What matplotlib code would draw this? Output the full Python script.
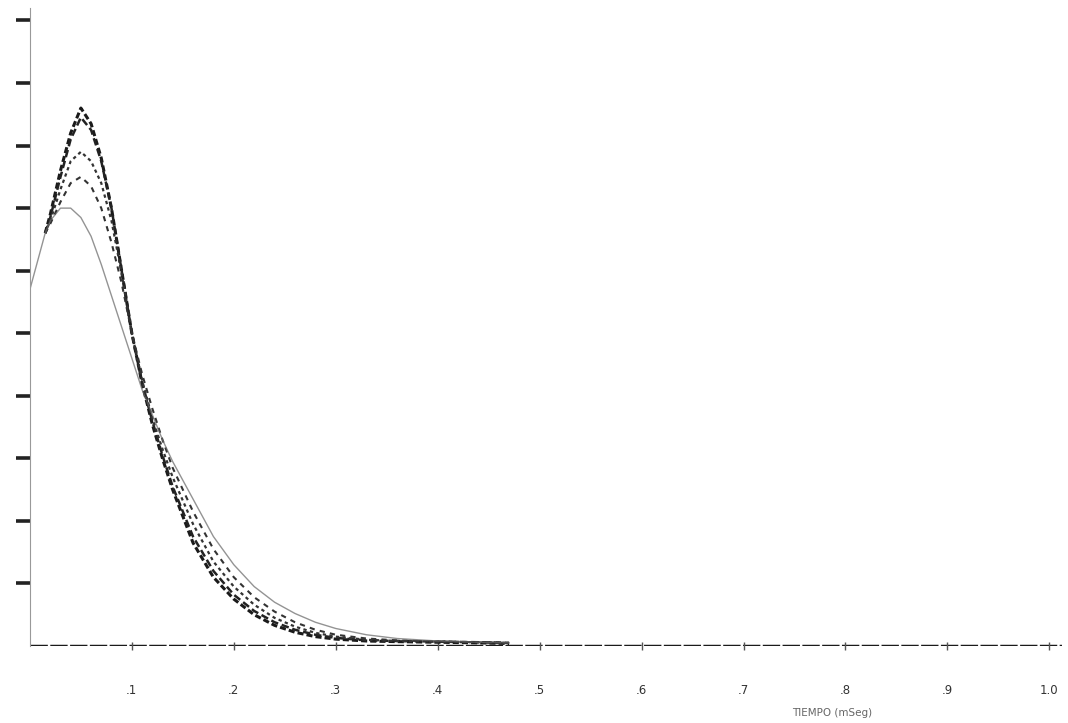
import numpy as np
import matplotlib.pyplot as plt

# time samples (mSeg) shared by all curves; nan = no sample drawn
t = [0.00, 0.015, 0.02, 0.03, 0.04, 0.05, 0.06, 0.07, 0.08, 0.09, 0.10,
     0.11, 0.12, 0.13, 0.14, 0.16, 0.18, 0.20, 0.22, 0.24, 0.26, 0.28,
     0.30, 0.33, 0.36, 0.40, 0.44, 0.47]

curve_a = [np.nan, 6.6, 6.9, 7.6, 8.2, 8.6, 8.35, 7.8, 7.0, 6.0, 5.0,
           4.2, 3.55, 3.0, 2.5, 1.65, 1.1, 0.75, 0.5, 0.33, 0.22, 0.15,
           0.11, 0.08, 0.07, 0.06, 0.05, 0.04]
curve_b = [np.nan, 6.6, 6.85, 7.5, 8.1, 8.45, 8.25, 7.75, 7.0, 6.0, 5.0,
           4.2, 3.6, 3.05, 2.55, 1.75, 1.2, 0.82, 0.56, 0.38, 0.26, 0.18,
           0.13, 0.09, 0.08, 0.07, 0.06, 0.05]
curve_c = [np.nan, 6.6, 6.8, 7.3, 7.75, 7.9, 7.75, 7.4, 6.8, 5.95, 5.0,
           4.25, 3.65, 3.15, 2.7, 1.95, 1.35, 0.95, 0.66, 0.45, 0.31, 0.21,
           0.15, 0.1, 0.08, 0.07, 0.06, 0.05]
curve_d = [np.nan, 6.6, 6.75, 7.1, 7.4, 7.5, 7.35, 7.0, 6.45, 5.8, 5.0,
           4.35, 3.8, 3.3, 2.85, 2.15, 1.55, 1.1, 0.78, 0.55, 0.38, 0.26,
           0.18, 0.12, 0.09, 0.07, 0.06, 0.05]
curve_e = [5.7, 6.6, 6.8, 7.0, 7.0, 6.85, 6.55, 6.1, 5.6, 5.1, 4.6,
           4.1, 3.7, 3.3, 2.95, 2.35, 1.75, 1.3, 0.95, 0.7, 0.52, 0.38,
           0.28, 0.18, 0.12, 0.08, 0.06, 0.05]

x_ticks = [0.1, 0.2, 0.3, 0.4, 0.5, 0.6, 0.7, 0.8, 0.9, 1.0]
x_labels = ['.1', '.2', '.3', '.4', '.5', '.6', '.7', '.8', '.9', '1.0']
y_ticks = [1, 2, 3, 4, 5, 6, 7, 8, 9, 10]

fig = plt.figure(figsize=(10.68, 7.23), dpi=100)
ax = fig.add_axes([0.028, 0.1065, 0.966, 0.8825])

ax.plot(t, curve_a, color='#1a1a1a', lw=2.2, ls=(0, (2, 1)))
ax.plot(t, curve_b, color='#222222', lw=1.8, ls=(0, (3, 1.5)))
ax.plot(t, curve_c, color='#333333', lw=1.6, ls=(0, (1.5, 1.5)))
ax.plot(t, curve_d, color='#333333', lw=1.5, ls=(0, (2.5, 2.5)))
ax.plot(t, curve_e, color='#666666', lw=1.0, ls='-', alpha=0.7)

# zero line drawn as heavy dashed axis
ax.axhline(0, color='#1a1a1a', lw=2.5, ls=(0, (5, 0.7)), zorder=1)

ax.set_xlim(0, 1.012)
ax.set_ylim(0, 10.2)

for s in ['top', 'right', 'bottom']:
    ax.spines[s].set_visible(False)
ax.spines['left'].set_color('#999999')
ax.spines['left'].set_linewidth(0.8)

ax.set_yticks(y_ticks)
ax.set_yticklabels([])
ax.tick_params(axis='y', direction='out', length=10, width=2.6, color='#222222')

ax.set_xticks(x_ticks)
ax.set_xticklabels(x_labels, fontsize=8.5, color='#333333')
ax.tick_params(axis='x', direction='inout', length=6, width=1, color='#555555', pad=24)

fig.text(0.742, 0.01, 'TIEMPO (mSeg)', fontsize=7.5, color='#666666')

fig.savefig('out.png', dpi=100)
